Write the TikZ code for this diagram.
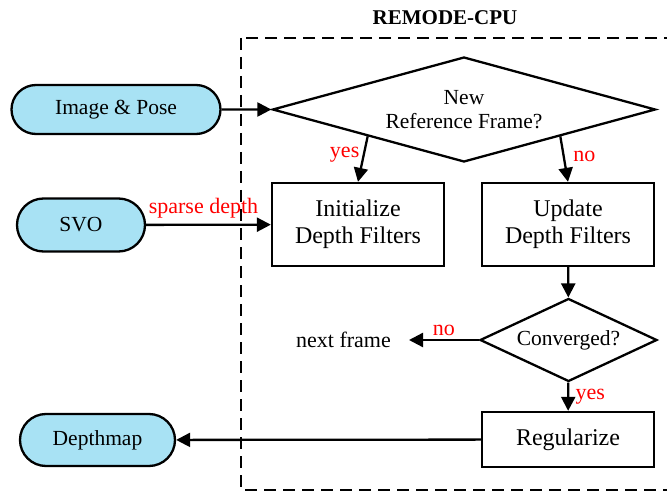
\documentclass[tikz,border=0pt]{standalone}
\usepackage{fontspec}
\setmainfont{Liberation Serif}
\usetikzlibrary{shapes.geometric, shapes.misc, arrows.meta}
\definecolor{pillblue}{RGB}{168,226,244}

\begin{document}
\begin{tikzpicture}[x=1pt, y=-1pt, line width=2.3pt,
    terminal/.style={rounded rectangle, draw, fill=pillblue, inner sep=0pt, font=\fontsize{21.5}{26}\selectfont},
    process/.style={rectangle, draw, inner sep=0pt, minimum width=172pt, align=center, font=\fontsize{24}{27}\selectfont},
    decision/.style={diamond, draw, inner sep=0pt, align=center, font=\fontsize{21.5}{24}\selectfont},
    flow/.style={-{Triangle[length=14pt, width=14pt]}},
    tag/.style={text=red, font=\fontsize{22}{26}\selectfont}
]
\clip (0,0) rectangle (667,492);

% frame of the cpu part
\node[font=\bfseries\fontsize{21}{24}\selectfont] (title) at (445,18) {REMODE-CPU};
\draw[dash pattern=on 12pt off 7pt] (241,38) rectangle (700,490);

\node[terminal, minimum width=209pt, minimum height=49pt] (imgpose) at (116,109.5) {Image \& Pose};
\node[terminal, minimum width=128pt, minimum height=53pt] (svo) at (81,225) {SVO};
\node[terminal, minimum width=155pt, minimum height=52pt] (depthmap) at (97.5,440) {Depthmap};

\node[decision, aspect=3.7, minimum width=383pt, minimum height=105pt] (newref) at (464,109.5) {New\\Reference Frame?};
\node[process, minimum height=83pt] (init) at (358,224.5) {Initialize\\Depth Filters};
\node[process, minimum height=83pt] (update) at (568,224.5) {Update\\Depth Filters};
\node[decision, aspect=2.1, minimum width=177pt, minimum height=83pt] (conv) at (568.5,340) {Converged?};
\node[process, minimum height=55pt] (reg) at (568,439.5) {Regularize};
\node[anchor=east, inner xsep=17pt, font=\fontsize{22}{26}\selectfont] (next) at (409,340) {next frame};

\draw[flow] (imgpose) -- (newref);
\draw[flow] (newref.south west) -- node[tag, left, pos=0.4] {yes} (init.north);
\draw[flow] (newref.south east) -- node[tag, right, pos=0.45, xshift=5pt] {no} (update.north);
\draw[flow] (svo) -- node[tag, above, pos=0.46, yshift=2pt] {sparse depth} (init);
\draw[flow] (update) -- (conv);
\draw[flow] (conv) -- node[tag, above] {no} (next);
\draw[flow] (conv) -- node[tag, right, xshift=3pt] {yes} (reg);
\draw[flow] (reg) -- (depthmap);
\end{tikzpicture}
\end{document}
